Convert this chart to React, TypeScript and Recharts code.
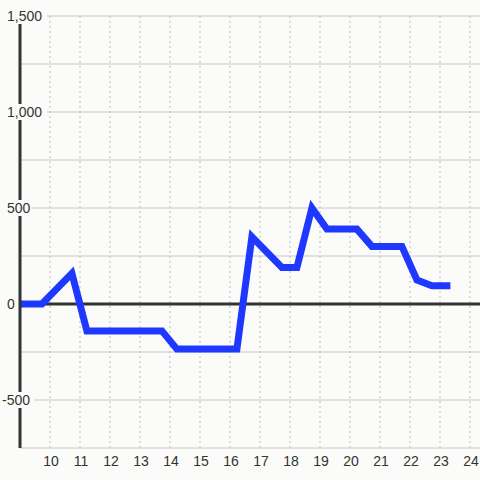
import React from "react";
import { LineChart, Line, XAxis, YAxis, CartesianGrid, ReferenceLine } from "recharts";

const hours = [9.0, 9.73, 10.73, 11.23, 13.73, 14.23, 16.23, 16.73, 17.73, 18.23, 18.73, 19.23, 20.23, 20.73, 21.73, 22.23, 22.73, 23.23];
const values = [0, 0, 160, -140, -140, -235, -235, 350, 190, 190, 500, 390, 390, 300, 300, 125, 95, 95];
const xTicks = [10, 11, 12, 13, 14, 15, 16, 17, 18, 19, 20, 21, 22, 23, 24];
const yTicks = [-750, -500, -250, 0, 250, 500, 750, 1000, 1250, 1500];
const yLabelled = [-500, 0, 500, 1000, 1500];
const xDomain = [9, 24 + 1 / 3];

const data = hours.map((h, i) => ({ h, v: values[i] }));

const BG = "#fbfcf9";
const FONT = "'Liberation Sans', Arial, sans-serif";

const fmt = (n: number) => n.toLocaleString("en-US");

const YTick = (props: any) => {
  const { y, payload } = props;
  const v = payload.value;
  if (!yLabelled.includes(v)) return <g />;
  const label = fmt(v);
  const x0 = v < 0 ? 2 : 7;
  const w = label.length * 7.6;
  return (
    <g>
      <rect x={x0 - 2} y={y - 8} width={w + 4} height={16} fill={BG} />
      <text x={x0} y={y} dy="0.35em" textAnchor="start" fontSize={14} fontFamily={FONT} fill="#333">
        {label}
      </text>
    </g>
  );
};

const XTick = (props: any) => {
  const { x, payload } = props;
  return (
    <text x={x + 1} y={461} dy="0.35em" textAnchor="middle" fontSize={14} fontFamily={FONT} fill="#333">
      {payload.value}
    </text>
  );
};

const vGen = (p: any) => {
  const off = (p && p.offset) || { left: 20, width: 460 };
  return xTicks.map((t) => off.left + ((t - xDomain[0]) / (xDomain[1] - xDomain[0])) * off.width);
};

export default function App() {
  return (
    <div style={{ position: "absolute", left: 0, top: 0, width: 480, height: 480, background: BG }}>
      <LineChart width={480} height={480} data={data} margin={{ top: 16, right: 0, bottom: 0, left: 0 }}>
        <CartesianGrid vertical={false} horizontalValues={yTicks} stroke="#c8c8c8" strokeWidth={1} />
        <CartesianGrid
          horizontal={false}
          verticalCoordinatesGenerator={vGen}
          stroke="#bdbdbd"
          strokeDasharray="2 3"
          strokeWidth={1}
        />
        <XAxis
          dataKey="h"
          type="number"
          domain={xDomain}
          ticks={xTicks}
          allowDataOverflow
          height={32}
          axisLine={false}
          tickLine={false}
          tick={<XTick />}
        />
        <YAxis
          type="number"
          domain={[-750, 1500]}
          ticks={yTicks}
          allowDataOverflow
          width={20}
          axisLine={{ stroke: "#333", strokeWidth: 3 }}
          tickLine={false}
          tick={<YTick />}
        />
        <ReferenceLine y={0} stroke="#333" strokeWidth={3} />
        <Line
          dataKey="v"
          type="linear"
          stroke="#1f38ff"
          strokeWidth={7}
          strokeLinecap="square"
          strokeLinejoin="miter"
          dot={false}
          activeDot={false}
          isAnimationActive={false}
        />
      </LineChart>
    </div>
  );
}
